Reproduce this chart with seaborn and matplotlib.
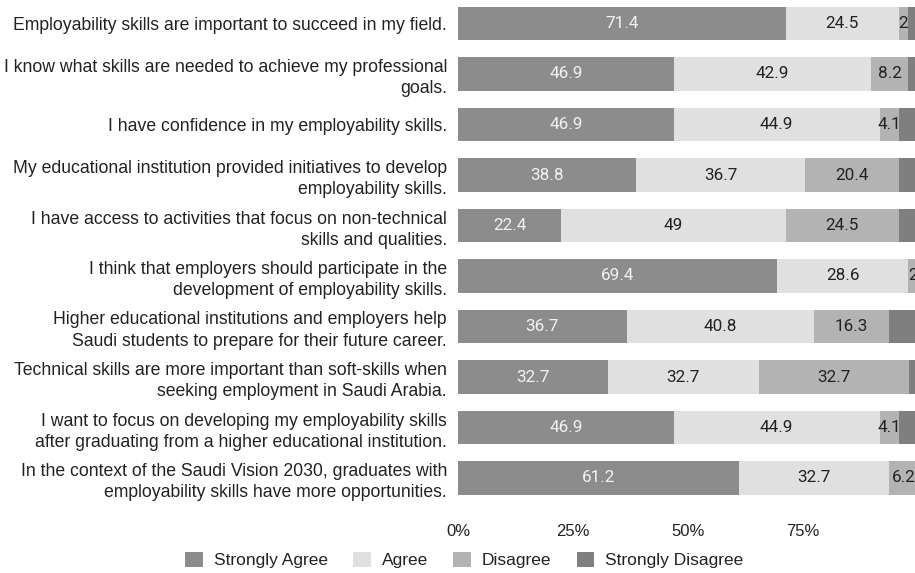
import matplotlib
matplotlib.use("Agg")
import matplotlib.pyplot as plt
import seaborn as sns
import pandas as pd
import numpy as np
from matplotlib.patches import Patch

questions = [
    "Employability skills are important to succeed in my field.",
    "I know what skills are needed to achieve my professional\ngoals.",
    "I have confidence in my employability skills.",
    "My educational institution provided initiatives to develop\nemployability skills.",
    "I have access to activities that focus on non-technical\nskills and qualities.",
    "I think that employers should participate in the\ndevelopment of employability skills.",
    "Higher educational institutions and employers help\nSaudi students to prepare for their future career.",
    "Technical skills are more important than soft-skills when\nseeking employment in Saudi Arabia.",
    "I want to focus on developing my employability skills\nafter graduating from a higher educational institution.",
    "In the context of the Saudi Vision 2030, graduates with\nemployability skills have more opportunities.",
]
categories = ["Strongly Agree", "Agree", "Disagree", "Strongly Disagree"]
strongly_agree = [71.4, 46.9, 46.9, 38.8, 22.4, 69.4, 36.7, 32.7, 46.9, 61.2]
agree = [24.5, 42.9, 44.9, 36.7, 49.0, 28.6, 40.8, 32.7, 44.9, 32.7]
disagree = [2.0, 8.2, 4.1, 20.4, 24.5, 2.0, 16.3, 32.7, 4.1, 6.2]
strongly_disagree = [2.0, 2.0, 4.1, 4.1, 4.1, 0.0, 6.1, 2.0, 4.1, 0.0]
x_ticks = [0, 25, 50, 75]
x_tick_labels = ["0%", "25%", "50%", "75%"]

colors = {"Strongly Agree": "#8c8c8c", "Agree": "#e0e0e0",
          "Disagree": "#b3b3b3", "Strongly Disagree": "#7f7f7f"}
text_colors = {"Strongly Agree": "#f2f2f2", "Agree": "#222222",
               "Disagree": "#222222"}

series = {"Strongly Agree": strongly_agree, "Agree": agree,
          "Disagree": disagree, "Strongly Disagree": strongly_disagree}
df = pd.DataFrame(series)
df["question"] = questions
cum = df[categories].cumsum(axis=1)
cum["question"] = questions

sns.set_style("white")
fig = plt.figure(figsize=(9.15, 5.73), dpi=100)
W, H = 915, 573
x0, x100 = 458, 917.5
top, bottom = -1.75, 503.25
ax = fig.add_axes([x0 / W, (H - bottom) / H, (x100 - x0) / W, (bottom - top) / H])

# draw cumulative totals from largest to smallest so segments stack
for cat in reversed(categories):
    sns.barplot(data=cum, y="question", x=cat, order=questions, color=colors[cat],
                orient="h", width=0.654, ax=ax, saturation=1, linewidth=0)

# value labels
for cat in ["Strongly Agree", "Agree", "Disagree"]:
    for i, q in enumerate(questions):
        v = df.loc[i, cat]
        if v <= 0:
            continue
        end = cum.loc[i, cat]
        ax.text(end - v / 2, i, f"{v:g}", ha="center", va="center",
                color=text_colors[cat], fontsize=12.3, family="Roboto")

ax.set_xlim(0, 100)
ax.set_ylim(len(questions) - 0.5, -0.5)
ax.set_xticks(x_ticks)
ax.set_xticklabels(x_tick_labels, family="Liberation Sans", fontsize=12, color="#222222")
ax.tick_params(axis="x", length=0, pad=15)
ax.tick_params(axis="y", length=0, pad=8)
for lab in ax.get_yticklabels():
    lab.set_family("Liberation Sans")
    lab.set_fontsize(12.7)
    lab.set_color("#222222")
    lab.set_linespacing(1.32)
ax.set_xlabel("")
ax.set_ylabel("")
for s in ax.spines.values():
    s.set_visible(False)

handles = [Patch(facecolor=colors[c], edgecolor="none") for c in categories]
fig.legend(handles, categories, loc="center", bbox_to_anchor=(464.5 / W, 1 - 560 / H),
           ncol=4, frameon=False, prop={"family": "Liberation Sans", "size": 12.5},
           handlelength=1.0, handleheight=1.0, handletextpad=0.65, columnspacing=1.45,
           labelcolor="#222222", borderaxespad=0, borderpad=0)

fig.savefig("out.png", dpi=100)
